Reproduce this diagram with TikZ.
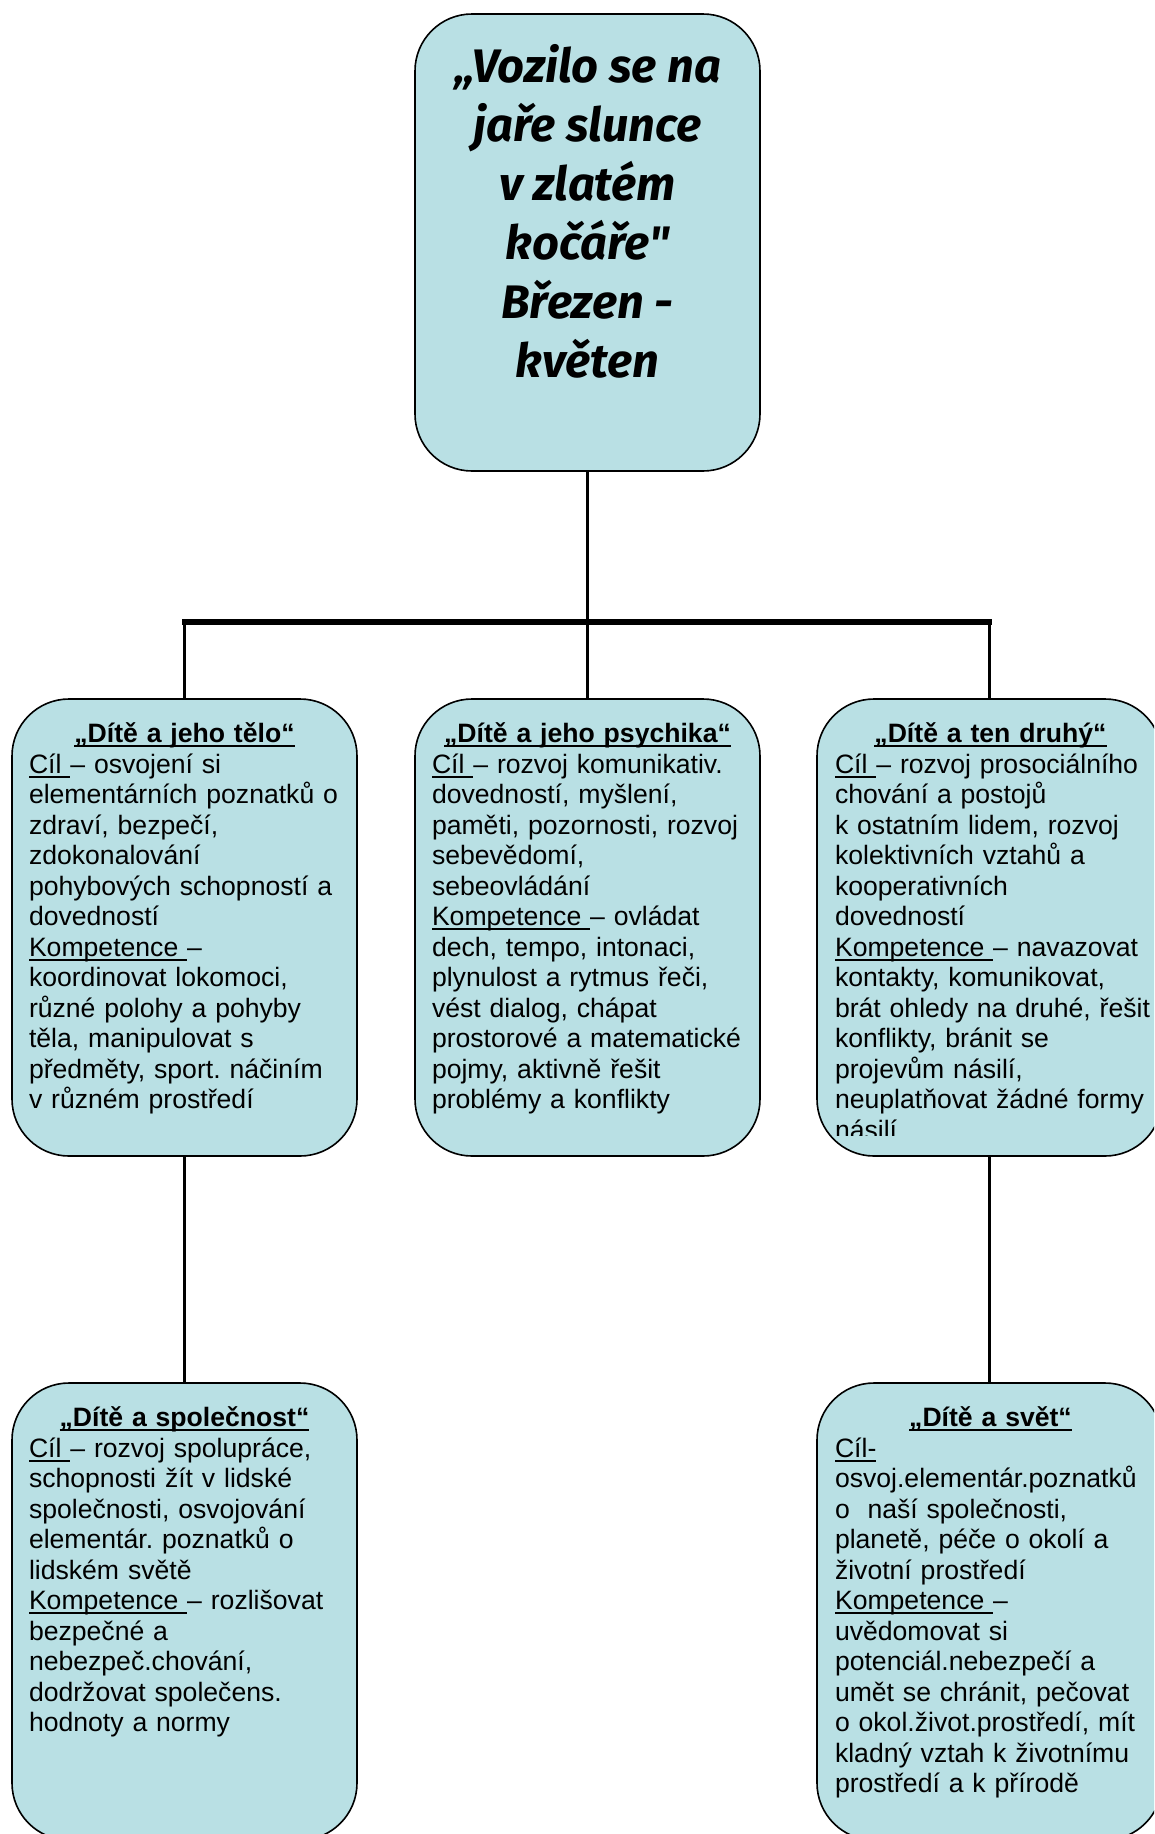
\documentclass[tikz,border=0pt]{standalone}
\usepackage{fontspec}
\setmainfont{Liberation Sans}
\newfontfamily\titlefont{Fira Sans}
\usetikzlibrary{calc}
\definecolor{boxfill}{RGB}{185,224,228}
\newsavebox\ulbx
\newcommand{\myul}[1]{\leavevmode\sbox\ulbx{#1}\rlap{\rule[-4.3pt]{\wd\ulbx}{1.9pt}}\usebox\ulbx}
\newcommand{\boxtitle}[1]{\makebox[311pt][c]{\bfseries\myul{#1}}}
\frenchspacing
\begin{document}
\begin{tikzpicture}[x=1pt,y=-1pt,
  box/.style={draw=black, line width=1.6pt, fill=boxfill, rounded corners=57pt,
    minimum width=345pt, minimum height=457pt, inner sep=0pt, outer sep=0pt},
  bodytext/.style={anchor=north west, inner sep=0pt, outer sep=0pt, text width=330pt,
    align=left, font=\fontsize{26.6}{30.5}\selectfont},
  conn/.style={line width=3.5pt},
  barline/.style={line width=5.5pt, line cap=rect},
]
\useasboundingbox (0,0) rectangle (1154,1834);
\clip (0,0) rectangle (1154,1834);

% boxes
\node[box] (b0) at (587.5,242.5) {};
\node[box] (l1) at (184.5,927.5) {};
\node[box] (m1) at (587.5,927.5) {};
\node[box] (r1) at (989.5,927.5) {};
\node[box] (l2) at (184.5,1611.5) {};
\node[box] (r2) at (989.5,1611.5) {};

% connectors
\coordinate (barY) at (0,622);
\draw[conn] (b0.south) -- (b0.south |- barY);
\draw[barline] (l1.north |- barY) -- (r1.north |- barY);
\draw[conn] (l1.north |- barY) -- (l1.north);
\draw[conn] (m1.north |- barY) -- (m1.north);
\draw[conn] (r1.north |- barY) -- (r1.north);
\draw[conn] (l1.south) -- (l2.north);
\draw[conn] (r1.south) -- (r2.north);

% title
\node[anchor=north, inner sep=0pt, align=center,
  font=\titlefont\bfseries\itshape\fontsize{47}{59.1}\selectfont] (ttl)
  at ([yshift=-26.6pt]b0.north)
  {\strut„Vozilo se na\\jaře slunce\\v zlatém\\kočáře"\\Březen -\\květen};

% left level-2
\node[bodytext] (tl1) at ([xshift=17pt,yshift=-22.6pt]l1.north west) {\strut\boxtitle{„Dítě a jeho tělo“}\\
\myul{Cíl }– osvojení si\\
elementárních poznatků o\\
zdraví, bezpečí,\\
zdokonalování\\
pohybových schopností a\\
dovedností\\
\myul{Kompetence }–\\
koordinovat lokomoci,\\
různé polohy a pohyby\\
těla, manipulovat s\\
předměty, sport. náčiním\\
v různém prostředí};

% middle level-2
\node[bodytext] (tm1) at ([xshift=17pt,yshift=-22.6pt]m1.north west) {\strut\boxtitle{„Dítě a jeho psychika“}\\
\myul{Cíl }– rozvoj komunikativ.\\
dovedností, myšlení,\\
paměti, pozornosti, rozvoj\\
sebevědomí,\\
sebeovládání\\
\myul{Kompetence }– ovládat\\
dech, tempo, intonaci,\\
plynulost a rytmus řeči,\\
vést dialog, chápat\\
prostorové a matematické\\
pojmy, aktivně řešit\\
problémy a konflikty};

% right level-2 (text clipped at the text area)
\begin{scope}
\clip ([xshift=-30pt]r1.north west) rectangle ([yshift=20.5pt]r1.south east);
\node[bodytext] (tr1) at ([xshift=18pt,yshift=-22.6pt]r1.north west) {\strut\boxtitle{„Dítě a ten druhý“}\\
\myul{Cíl }– rozvoj prosociálního\\
chování a postojů\\
k ostatním lidem, rozvoj\\
kolektivních vztahů a\\
kooperativních\\
dovedností\\
\myul{Kompetence }– navazovat\\
kontakty, komunikovat,\\
brát ohledy na druhé, řešit\\
konflikty, bránit se\\
projevům násilí,\\
neuplatňovat žádné formy\\
násilí};
\end{scope}

% bottom-left
\node[bodytext] (tl2) at ([xshift=17pt,yshift=-22.6pt]l2.north west) {\strut\boxtitle{„Dítě a společnost“}\\
\myul{Cíl }– rozvoj spolupráce,\\
schopnosti žít v lidské\\
společnosti, osvojování\\
elementár. poznatků o\\
lidském světě\\
\myul{Kompetence }– rozlišovat\\
bezpečné a\\
nebezpeč.chování,\\
dodržovat společens.\\
hodnoty a normy};

% bottom-right
\node[bodytext] (tr2) at ([xshift=18pt,yshift=-22.6pt]r2.north west) {\strut\boxtitle{„Dítě a svět“}\\
\myul{Cíl-}\\
osvoj.elementár.poznatků\\
o\ \ naší společnosti,\\
planetě, péče o okolí a\\
životní prostředí\\
\myul{Kompetence }–\\
uvědomovat si\\
potenciál.nebezpečí a\\
umět se chránit, pečovat\\
o okol.život.prostředí, mít\\
kladný vztah k životnímu\\
prostředí a k přírodě};
\end{tikzpicture}
\end{document}
